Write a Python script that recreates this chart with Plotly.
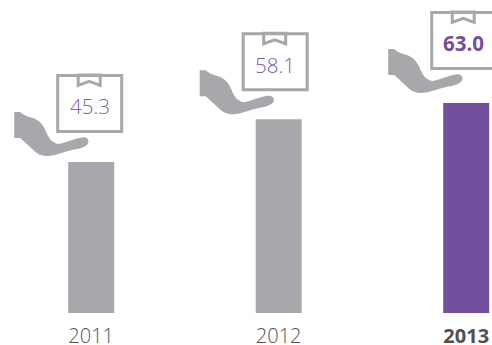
import plotly.graph_objects as go

# Chart values
years = ["2011", "2012", "2013"]
values = [45.3, 58.1, 63.0]
highlight = [False, False, True]

# Colours
GREY = "#a7a8ab"
PURPLE = "#744f9e"
LABEL_PURPLE = "#7f60ab"
YEAR_GREY = "#505153"

# Canvas and scale, in pixels
WIDTH, HEIGHT = 492, 345
PLOT_H = 313
PX_PER_UNIT = 3.335
PX_PER_STEP = 187.5
FIRST_CENTRE = 91.2
BAR_PX = 46
FONT = "Open Sans"

# Top-left corner of each parcel, relative to the top centre of its bar
box_offsets = [(-35, -88), (-37, -87), (-36, -92)]
BOX_W, BOX_H = 67, 59
STROKE = 3

x_pos = list(range(len(years)))


def to_x(centre, px):
    return centre + px / PX_PER_STEP


def to_y(top, px):
    return top - px / PX_PER_UNIT


def build_path(segments, cx, top, ox, oy, close=True):
    """Build an SVG path from pixel offsets measured from the parcel corner."""
    parts = []
    for cmd, pts in segments:
        coords = " ".join(
            f"{to_x(cx, ox + px):.5f},{to_y(top, oy + py):.5f}" for px, py in pts
        )
        parts.append(f"{cmd} {coords}")
    return " ".join(parts) + (" Z" if close else "")


# Parcel outline, inset by half the stroke
box_outline = [
    ("M", [(1.5, 1.5)]),
    ("L", [(BOX_W - 1.5, 1.5)]),
    ("L", [(BOX_W - 1.5, BOX_H - 1.5)]),
    ("L", [(1.5, BOX_H - 1.5)]),
]

# Ribbon hanging from the parcel's top edge
ribbon = [
    ("M", [(22, 1)]),
    ("L", [(22, 11.5)]),
    ("L", [(33, 7.5)]),
    ("L", [(44, 11.5)]),
    ("L", [(44, 1)]),
]

# Open hand reaching towards the parcel
hand = [
    ("M", [(-42, 38)]),
    ("L", [(-36, 38), (-34, 41)]),
    ("C", [(-30, 43), (-25, 43), (-21, 45)]),
    ("C", [(-15, 48), (-12, 53), (-10, 58)]),
    ("C", [(-7, 66), (-3, 69), (2, 70)]),
    ("C", [(9, 69), (18, 64.5), (26, 63.5)]),
    ("C", [(31, 63), (33, 66), (32, 69)]),
    ("C", [(30, 74), (20, 75), (12, 77)]),
    ("C", [(4, 79), (-2, 82), (-9, 82)]),
    ("C", [(-15, 82), (-19, 80), (-24, 75)]),
    ("L", [(-36, 64)]),
    ("L", [(-42, 64)]),
]

shapes = []
annotations = []
for cx, val, strong, (ox, oy) in zip(x_pos, values, highlight, box_offsets):
    shapes.append(dict(
        type="path", xref="x", yref="y", layer="above",
        path=build_path(hand, cx, val, ox, oy),
        fillcolor=GREY, line=dict(width=0),
    ))
    for outline in (box_outline, ribbon):
        shapes.append(dict(
            type="path", xref="x", yref="y", layer="above",
            path=build_path(outline, cx, val, ox, oy),
            fillcolor="rgba(0,0,0,0)",
            line=dict(color=GREY, width=STROKE),
        ))
    annotations.append(dict(
        x=to_x(cx, ox + BOX_W / 2), y=to_y(val, oy + BOX_H / 2 + 3),
        xref="x", yref="y", xanchor="center", yanchor="middle",
        showarrow=False,
        text=f"<b>{val:.1f}</b>" if strong else f"{val:.1f}",
        font=dict(family=FONT, size=20.5, color=PURPLE if strong else LABEL_PURPLE,
                  weight=700 if strong else 300),
    ))

fig = go.Figure(go.Bar(
    x=x_pos,
    y=values,
    width=BAR_PX / PX_PER_STEP,
    marker=dict(color=[PURPLE if s else GREY for s in highlight], line=dict(width=0)),
    hoverinfo="skip",
))

fig.update_layout(
    width=WIDTH,
    height=HEIGHT,
    margin=dict(l=0, r=0, t=0, b=HEIGHT - PLOT_H, pad=0, autoexpand=False),
    paper_bgcolor="white",
    plot_bgcolor="white",
    showlegend=False,
    shapes=shapes,
    annotations=annotations,
    xaxis=dict(
        range=[-FIRST_CENTRE / PX_PER_STEP, (WIDTH - FIRST_CENTRE) / PX_PER_STEP],
        tickmode="array",
        tickvals=x_pos,
        ticktext=[f"<b>{y}</b>" if s else y for y, s in zip(years, highlight)],
        tickfont=dict(family=FONT, size=20, color=YEAR_GREY, weight=300),
        ticks="outside",
        ticklen=5,
        tickcolor="rgba(0,0,0,0)",
        automargin=False,
        showgrid=False,
        zeroline=False,
        showline=False,
    ),
    yaxis=dict(
        range=[0, PLOT_H / PX_PER_UNIT],
        visible=False,
    ),
)

fig.write_html("out.html")
